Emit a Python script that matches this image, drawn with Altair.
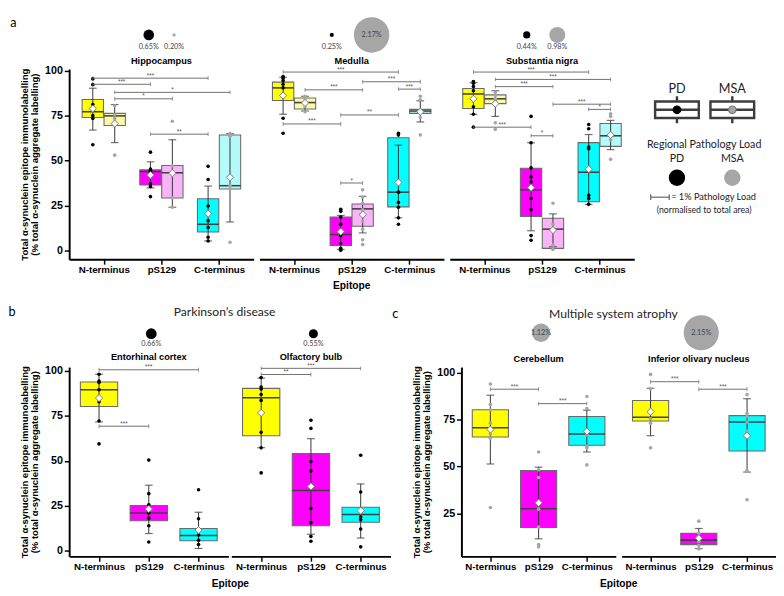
import altair as alt
import pandas as pd

EPITOPES = ["N-terminus", "pS129", "C-terminus"]
REGIONS_A = ["Hippocampus", "Medulla", "Substantia nigra"]
REGIONS_B = ["Entorhinal cortex", "Olfactory bulb"]
REGIONS_C = ["Cerebellum", "Inferior olivary nucleus"]

# ---- one entry per box ----
BOX_REGION = (["Hippocampus"] * 6 + ["Medulla"] * 6 + ["Substantia nigra"] * 6
              + ["Entorhinal cortex"] * 3 + ["Olfactory bulb"] * 3
              + ["Cerebellum"] * 3 + ["Inferior olivary nucleus"] * 3)
BOX_GROUP = ["PD", "MSA"] * 9 + ["PD"] * 6 + ["MSA"] * 6
BOX_EPITOPE = [0, 0, 1, 1, 2, 2] * 3 + [0, 1, 2] * 4

BOX_Q1 = [74.0, 69.5, 36.4, 29.2, 10.2, 34.2,
          83.5, 78.7, 2.7, 13.4, 24.2, 76.3,
          79.0, 81.7, 18.8, 1.1, 27.1, 57.9,
          80.1, 16.8, 5.7,
          63.9, 14.0, 15.9,
          65.7, 17.4, 61.3,
          74.2, 8.3, 58.2]
BOX_MEDIAN = [77.2, 74.9, 43.9, 43.2, 14.5, 36.0,
              90.5, 82.3, 8.8, 23.1, 32.4, 77.6,
              87.1, 84.4, 33.7, 11.8, 43.5, 63.8,
              89.4, 21.1, 8.6,
              85.0, 33.6, 20.2,
              70.6, 27.4, 67.3,
              76.2, 10.7, 73.7]
BOX_Q3 = [84.0, 76.3, 44.8, 47.3, 28.7, 64.2,
          93.7, 84.9, 18.5, 25.8, 62.7, 78.5,
          90.1, 86.6, 45.7, 17.9, 60.0, 70.6,
          93.7, 25.2, 12.5,
          90.2, 54.0, 24.3,
          80.2, 47.8, 76.6,
          85.2, 14.3, 77.1]
BOX_MEAN = [78.9, 70.6, 41.9, 43.0, 20.4, 40.7,
            86.2, 82.1, 10.4, 19.9, 37.8, 77.2,
            84.4, 81.7, 34.9, 11.3, 45.2, 64.3,
            84.8, 23.3, 11.6,
            76.6, 35.8, 22.4,
            69.7, 30.6, 68.7,
            79.2, 11.7, 66.4]
BOX_SD_LO = [67.0, 60.0, 34.8, 24.0, 5.2, 15.8,
             75.8, 77.6, 0.5, 9.7, 18.1, 71.5,
             75.8, 74.6, 10.9, 2.0, 25.6, 56.1,
             71.6, 9.7, 1.4,
             57.3, 9.3, 7.2,
             51.3, 11.4, 57.7,
             66.4, 6.2, 47.0]
BOX_SD_HI = [90.3, 81.2, 49.3, 61.6, 35.8, 65.0,
             96.4, 85.8, 19.4, 30.1, 58.6, 83.3,
             93.4, 88.9, 59.9, 20.3, 64.5, 72.4,
             98.0, 36.5, 21.5,
             95.9, 62.3, 37.2,
             88.0, 49.6, 80.0,
             91.7, 16.9, 86.1]
BOX_POINTS = [
    [95.5, 92.3, 81.2, 79.5, 75.0, 73.5, 58.8],
    [80.5, 75.5, 73.5, 70.0, 53.0],
    [54.7, 45.3, 44.6, 43.5, 37.0, 35.5, 29.9],
    [71.9, 47.0, 43.2, 29.2, 24.0],
    [46.8, 39.4, 24.7, 16.5, 12.7, 7.3, 5.2],
    [65.1, 63.5, 36.0, 34.2, 4.5],
    [96.8, 95.8, 94.5, 92.5, 90.5, 86.0, 73.6, 65.2],
    [85.8, 84.4, 82.3, 80.0, 77.2],
    [22.9, 21.7, 18.5, 14.5, 10.0, 8.2, 3.8, 1.1, 0.0],
    [33.7, 29.7, 26.2, 22.6, 16.3, 11.8, 5.9, 3.2],
    [65.2, 64.2, 32.4, 26.7, 24.0, 18.1, 14.5],
    [85.8, 83.9, 77.6, 76.7, 74.0, 64.3],
    [94.0, 93.0, 91.2, 88.9, 80.0, 75.8, 68.6],
    [88.0, 86.2, 84.4, 83.0, 71.0, 67.4],
    [74.6, 59.9, 45.9, 40.9, 38.2, 28.9, 22.6, 8.2, 5.6],
    [26.2, 14.5, 11.8, 2.9, 0.5],
    [70.1, 67.7, 57.5, 56.6, 30.6, 28.9, 25.6],
    [76.0, 74.6, 64.0, 61.5, 50.7],
    [98.0, 94.3, 93.4, 89.4, 82.8, 72.1, 59.4],
    [50.4, 31.8, 25.6, 21.1, 18.2, 14.0, 5.0],
    [34.0, 17.9, 8.9, 5.9, 3.6],
    [96.2, 90.9, 89.8, 86.8, 83.5, 65.8, 57.2, 43.3],
    [72.5, 68.0, 49.6, 44.4, 23.6, 15.7, 8.1, 5.4],
    [53.1, 32.7, 18.8, 17.4, 12.2, 2.3],
    [94.0, 83.1, 80.2, 73.1, 67.3, 65.1, 28.1],
    [57.7, 48.2, 44.1, 27.2, 17.7, 8.3, 7.1],
    [87.3, 80.9, 68.8, 66.8, 60.8, 59.9, 50.8],
    [99.1, 91.4, 79.7, 75.4, 73.1, 59.9],
    [20.8, 14.3, 11.7, 10.0, 7.9, 6.0],
    [88.3, 78.3, 76.6, 73.7, 68.8, 47.8, 32.2],
]

# ---- regional pathology load (%) ----
LOAD_REGION = ["Hippocampus", "Hippocampus", "Medulla", "Medulla",
               "Substantia nigra", "Substantia nigra", "Entorhinal cortex",
               "Olfactory bulb", "Cerebellum", "Inferior olivary nucleus"]
LOAD_GROUP = ["PD", "MSA", "PD", "MSA", "PD", "MSA", "PD", "PD", "MSA", "MSA"]
LOAD_PCT = [0.65, 0.20, 0.25, 2.17, 0.44, 0.98, 0.66, 0.55, 1.12, 2.15]

# ---- significance brackets ----
BR_REGION = (["Hippocampus"] * 5 + ["Medulla"] * 7 + ["Substantia nigra"] * 7
             + ["Entorhinal cortex"] * 2 + ["Olfactory bulb"] * 2
             + ["Cerebellum"] * 2 + ["Inferior olivary nucleus"] * 2)
BR_EPI1 = [0, 0, 0, 0, 1,
           0, 1, 0, 2, 1, 0, 1,
           0, 0, 0, 1, 2, 0, 1,
           0, 0, 0, 0, 0, 1, 0, 1]
BR_GRP1 = ["PD", "PD", "MSA", "MSA", "PD",
           "PD", "MSA", "MSA", "PD", "PD", "PD", "PD",
           "PD", "MSA", "MSA", "MSA", "PD", "PD", "PD",
           "PD", "PD", "PD", "PD", "MSA", "MSA", "MSA", "MSA"]
BR_EPI2 = [2, 1, 2, 1, 2,
           2, 2, 1, 2, 2, 1, 1,
           2, 2, 1, 2, 2, 1, 1,
           2, 1, 2, 1, 1, 2, 1, 2]
BR_GRP2 = ["PD", "PD", "MSA", "MSA", "PD",
           "PD", "MSA", "MSA", "MSA", "PD", "PD", "MSA",
           "PD", "MSA", "MSA", "MSA", "MSA", "PD", "MSA",
           "PD", "PD", "PD", "PD", "MSA", "MSA", "MSA", "MSA"]
BR_Y = [95.9, 92.5, 88.0, 84.4, 64.7,
        99.3, 93.9, 89.4, 89.8, 75.4, 70.4, 37.5,
        99.3, 95.2, 91.2, 81.4, 78.5, 68.6, 63.8,
        100.5, 69.2, 101.3, 97.9, 91.2, 83.5, 95.2, 91.2]
BR_LABEL = ["***", "***", "*", "*", "**",
            "***", "***", "***", "***", "**", "***", "*",
            "***", "***", "***", "***", "*", "***", "*",
            "***", "***", "***", "**", "***", "***", "***", "***"]

YTITLE = ["Total α-synuclein epitope immunolabelling",
          "(% total α-synuclein aggregate labelling)"]

AXF = "Liberation Sans"
TF = "Lato"

ROWS = {
    "A": dict(regions=REGIONS_A, width=190, height=196, spacing=6, ydom=[-5, 101],
              yvals=[0, 25, 50, 75, 100], off=0.19, half=0.185,
              circ_y=120.0, lab_y=113.1, title_y=105.6),
    "B": dict(regions=REGIONS_B, width=164, height=195, spacing=3, ydom=[-3, 102],
              yvals=[0, 25, 50, 75, 100], off=0.0, half=0.375,
              circ_y=120.5, lab_y=114.6, title_y=107.4),
    "C": dict(regions=REGIONS_C, width=159, height=195, spacing=6, ydom=[2, 103],
              yvals=[25, 50, 75, 100], off=0.0, half=0.375,
              circ_y=121.3, lab_y=114.6, title_y=107.4),
}

FILL_SCALE = alt.Scale(
    domain=["N-terminus|full", "pS129|full", "C-terminus|full",
            "N-terminus|light", "pS129|light", "C-terminus|light"],
    range=["#ffff00", "#ff00ff", "#00ffff", "#fcfaa8", "#f9b3f7", "#b3fbfb"])
GROUP_COLOR = alt.Scale(domain=["PD", "MSA"], range=["#000000", "#a6a6a6"])
SIZE_SCALE = alt.Scale(type="pow", exponent=2, domain=[0, 2.2], range=[0, 1372.3])


def build_row(key):
    cfg = ROWS[key]
    regions = cfg["regions"]
    W, H = cfg["width"], cfg["height"]
    ppu = W / 3.2

    def pos(e, g):
        if cfg["off"] == 0:
            return e
        return e + (-cfg["off"] if g == "PD" else cfg["off"])

    recs = []
    for i, reg in enumerate(BOX_REGION):
        if reg not in regions:
            continue
        g = BOX_GROUP[i]
        e = BOX_EPITOPE[i]
        xc = pos(e, g)
        shade = "light" if (key == "A" and g == "MSA") else "full"
        recs.append(dict(kind="box", region=reg, group=g, x=xc,
                         xlo=xc - cfg["half"], xhi=xc + cfg["half"],
                         q1=BOX_Q1[i], med=BOX_MEDIAN[i], q3=BOX_Q3[i],
                         mean=BOX_MEAN[i], lo=BOX_SD_LO[i], hi=BOX_SD_HI[i],
                         fillkey=f"{EPITOPES[e]}|{shade}"))
        for v in BOX_POINTS[i]:
            recs.append(dict(kind="pt", region=reg, group=g, x=xc, val=v))
    for j, reg in enumerate(BR_REGION):
        if reg not in regions:
            continue
        x1 = pos(BR_EPI1[j], BR_GRP1[j])
        x2 = pos(BR_EPI2[j], BR_GRP2[j])
        recs.append(dict(kind="br", region=reg, bx1=x1, bx2=x2, bxm=(x1 + x2) / 2,
                         by=BR_Y[j], label=BR_LABEL[j]))
    for reg in regions:
        idx = [k for k, r in enumerate(LOAD_REGION) if r == reg]
        pcts = [LOAD_PCT[k] for k in idx]
        if len(idx) == 2:
            d = (9.5 * sum(pcts) + 18) / 2 / ppu
            xs_ = [1.0 - d, 1.0 + d]
        else:
            xs_ = [1.05]
        for k, hx in zip(idx, xs_):
            p = LOAD_PCT[k]
            recs.append(dict(kind="load", region=reg, group=LOAD_GROUP[k], hx=hx,
                             hy=cfg["circ_y"],
                             ly=cfg["circ_y"] if p >= 1 else cfg["lab_y"],
                             pct=p, plabel=f"{p:.2f}%"))
        recs.append(dict(kind="title", region=reg, tx=1.0, ty=cfg["title_y"], text=reg))
    df = pd.DataFrame(recs)

    xs = alt.Scale(domain=[-0.6, 2.6], nice=False, zero=False)
    ys = alt.Scale(domain=cfg["ydom"], nice=False, zero=False)
    xaxis = alt.Axis(values=[0, 1, 2],
                     labelExpr="['N-terminus','pS129','C-terminus'][datum.value]",
                     title=None, grid=False, domainColor="black", domainWidth=2,
                     tickColor="black", tickWidth=1.5, tickSize=5, labelFont=AXF,
                     labelFontWeight="bold", labelFontSize=10, labelColor="black",
                     labelPadding=1, labelOverlap=False, labelFlush=False)
    yaxis = alt.Axis(values=cfg["yvals"], title=YTITLE, grid=False,
                     domainColor="black", domainWidth=2, tickColor="black",
                     tickWidth=1.5, tickSize=5, labelFont=AXF, labelFontWeight="bold",
                     labelFontSize=11, labelColor="black", labelPadding=2,
                     titleFont=AXF, titleFontWeight="bold", titleFontSize=9.8,
                     titleColor="black", titleLineHeight=10.5, titlePadding=5)

    def X(f):
        return alt.X(f, type="quantitative", scale=xs, axis=xaxis)

    def Y(f):
        return alt.Y(f, type="quantitative", scale=ys, axis=yaxis)

    fb = "datum.kind == 'box'"
    box = alt.Chart().mark_rect(stroke="#6b6b6b", strokeWidth=1.1).encode(
        x=X("xlo"), x2="xhi", y=Y("q1"), y2="q3",
        fill=alt.Fill("fillkey:N", scale=FILL_SCALE, legend=None)).transform_filter(fb)
    whisk = alt.Chart().mark_rule(color="#333333", strokeWidth=1).encode(
        x=X("x"), y=Y("lo"), y2="hi").transform_filter(fb)
    caps = alt.Chart().mark_tick(orient="horizontal", size=8, thickness=1.2,
                                 color="#333333").encode(
        x=X("x"), y=Y("cap")).transform_filter(fb).transform_fold(
        ["lo", "hi"], as_=["which", "cap"])
    median = alt.Chart().mark_rule(color="#404040", strokeWidth=1.6).encode(
        x=X("xlo"), x2="xhi", y=Y("med")).transform_filter(fb)
    pts = alt.Chart().mark_circle(size=14, opacity=1).encode(
        x=X("x"), y=Y("val"),
        color=alt.Color("group:N", scale=GROUP_COLOR, legend=None)
    ).transform_filter("datum.kind == 'pt'")
    mean = alt.Chart().mark_point(shape="diamond", filled=True, fill="white",
                                  stroke="#7d7d7d", strokeWidth=1, size=55,
                                  opacity=1).encode(
        x=X("x"), y=Y("mean")).transform_filter(fb)
    fbr = "datum.kind == 'br'"
    brk = alt.Chart().mark_rule(color="#5c5c5c", strokeWidth=0.9).encode(
        x=X("bx1"), x2="bx2", y=Y("by")).transform_filter(fbr)
    brk_end = alt.Chart().mark_tick(orient="vertical", size=4, thickness=0.9,
                                    color="#5c5c5c").encode(
        x=X("bend"), y=Y("by")).transform_filter(fbr).transform_fold(
        ["bx1", "bx2"], as_=["w", "bend"])
    brk_txt = alt.Chart().mark_text(fontSize=6.5, color="#555555", baseline="middle",
                                    dy=-2.5, font=AXF).encode(
        x=X("bxm"), y=Y("by"), text="label:N").transform_filter(fbr)
    fl = "datum.kind == 'load'"
    load_c = alt.Chart().mark_circle(opacity=1).encode(
        x=X("hx"), y=Y("hy"),
        size=alt.Size("pct:Q", scale=SIZE_SCALE, legend=None),
        color=alt.Color("group:N", scale=GROUP_COLOR, legend=None)).transform_filter(fl)
    load_t = alt.Chart().mark_text(fontSize=7.5, color="#444444", font=TF).encode(
        x=X("hx"), y=Y("ly"), text="plabel:N").transform_filter(fl)
    title_t = alt.Chart().mark_text(fontSize=9.5, fontWeight="bold", font=AXF,
                                    color="black").encode(
        x=X("tx"), y=Y("ty"), text="text:N").transform_filter("datum.kind == 'title'")

    layered = alt.layer(box, whisk, caps, median, pts, mean, brk, brk_end, brk_txt,
                        load_c, load_t, title_t, data=df).properties(width=W, height=H)
    return layered.facet(
        column=alt.Column("region:N", sort=regions, title="Epitope",
                          header=alt.Header(labels=False, titleOrient="bottom",
                                            titleFont=AXF, titleFontSize=10.5,
                                            titleFontWeight="bold", titleColor="black",
                                            titlePadding=-3)),
        spacing=cfg["spacing"])


def letter(t, offset):
    return alt.TitleParams(t, orient="left", anchor="end", angle=0, align="right",
                           baseline="top", offset=offset, font=TF, fontSize=13,
                           fontWeight="normal", color="black")


# ---- legend (key) ----
LEG_GROUPS = ["PD", "MSA"]
leg_df = pd.DataFrame({"group": LEG_GROUPS, "pct": [1.0, 1.0]})
one_df = pd.DataFrame({"k": [0]})
gx = alt.X("group:N", scale=alt.Scale(type="point", domain=LEG_GROUPS,
                                      range=[29, 86], padding=0), axis=None)
ICON = "M-1,-0.378H1V0.378H-1Z M-1,0H1 M0,-0.378V-0.62 M0,0.378V0.62"
LY = -59
lg_lab1 = alt.Chart(leg_df).mark_text(fontSize=13, font=TF, color="#222222").encode(
    x=gx, y=alt.value(80 + LY), text="group:N")
lg_icon = alt.Chart(leg_df).mark_point(shape=ICON, size=2025, filled=False,
                                      color="#3d3d3d", strokeWidth=2.5,
                                      opacity=1).encode(x=gx, y=alt.value(101 + LY))
lg_dot = alt.Chart(leg_df).mark_point(shape="circle", filled=True, size=60,
                                     strokeWidth=1.2, opacity=1).encode(
    x=gx, y=alt.value(101 + LY),
    color=alt.Color("group:N", scale=GROUP_COLOR, legend=None),
    stroke=alt.Stroke("group:N", scale=alt.Scale(domain=LEG_GROUPS,
                                                 range=["#000000", "#777777"]),
                      legend=None))
lg_rpl = alt.Chart(one_df).mark_text(text="Regional Pathology Load", fontSize=11,
                                     font=TF, color="#222222").encode(
    x=alt.value(57), y=alt.value(137 + LY))
lg_lab2 = alt.Chart(leg_df).mark_text(fontSize=11, font=TF, color="#222222").encode(
    x=gx, y=alt.value(152 + LY), text="group:N")
lg_circ = alt.Chart(leg_df).mark_circle(opacity=1).encode(
    x=gx, y=alt.value(171 + LY),
    size=alt.Size("pct:Q", scale=SIZE_SCALE, legend=None),
    color=alt.Color("group:N", scale=GROUP_COLOR, legend=None))
lg_bar = alt.Chart(one_df).mark_rule(color="#444444", strokeWidth=1).encode(
    x=alt.value(2), x2=alt.value(21), y=alt.value(191 + LY))
lg_bar_l = alt.Chart(one_df).mark_rule(color="#444444", strokeWidth=1).encode(
    x=alt.value(2), y=alt.value(188 + LY), y2=alt.value(194 + LY))
lg_bar_r = alt.Chart(one_df).mark_rule(color="#444444", strokeWidth=1).encode(
    x=alt.value(21), y=alt.value(188 + LY), y2=alt.value(194 + LY))
lg_eq = alt.Chart(one_df).mark_text(text="= 1% Pathology Load", fontSize=9.5, font=TF,
                                    align="left", color="#222222").encode(
    x=alt.value(23), y=alt.value(191 + LY))
lg_norm = alt.Chart(one_df).mark_text(text="(normalised to total area)", fontSize=9,
                                      font=TF, color="#222222").encode(
    x=alt.value(57), y=alt.value(204 + LY))
legend = alt.layer(lg_lab1, lg_icon, lg_dot, lg_rpl, lg_lab2, lg_circ, lg_bar,
                   lg_bar_l, lg_bar_r, lg_eq, lg_norm).properties(width=118, height=150)

facA = build_row("A")
facB = build_row("B").properties(title=alt.TitleParams(
    "Parkinson’s disease", font=TF, fontSize=12.5, fontWeight="normal",
    color="#222222", anchor="middle", offset=10, dx=20))
facC = build_row("C").properties(title=alt.TitleParams(
    "Multiple system atrophy", font=TF, fontSize=12.5, fontWeight="normal",
    color="#222222", anchor="middle", offset=-5, dx=20))

rowA = alt.hconcat(facA, legend, spacing=12, title=letter("a", -3))
wrapB = alt.hconcat(facB, title=letter("b", -3))
wrapC = alt.hconcat(facC, title=letter("c", 8))
rowBC = alt.hconcat(wrapB, wrapC, spacing=1)

chart = alt.vconcat(rowA, rowBC, spacing=14).properties(padding=0).configure_view(
    strokeWidth=0)

chart.save("out.html", embed_options={"renderer": "svg", "actions": False})
